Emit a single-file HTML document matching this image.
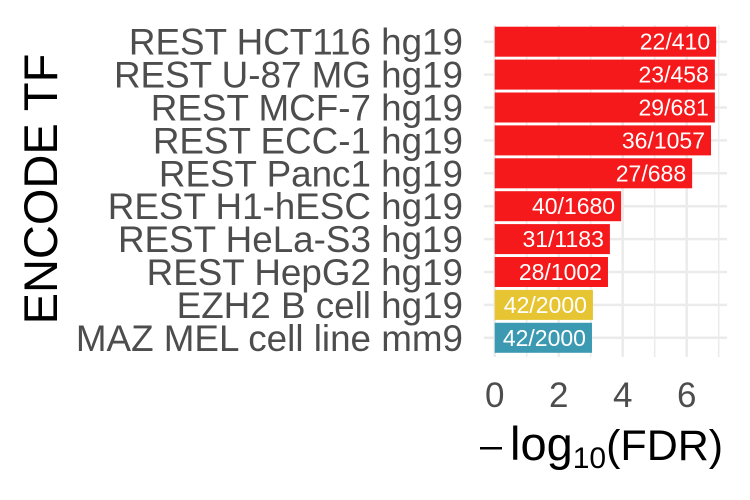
<!DOCTYPE html>
<html><head><meta charset="utf-8"><style>
html,body{margin:0;padding:0;background:#fff;}
svg{display:block;font-family:"Liberation Sans",Arial,sans-serif;}
</style></head><body>
<svg id="chart" width="750" height="500" viewBox="0 0 750 500">
<g id="grid"></g>
<g id="bars"></g>
<g id="ylabels"></g>
<g id="xticks"></g>
<text x="0" y="0" font-size="47" fill="#000" text-anchor="middle" transform="translate(57,189) rotate(-90)">ENCODE TF</text>
<rect x="480" y="447" width="22" height="2.5" fill="#000"></rect>
<text x="510" y="460" fill="#000"><tspan font-size="47">log</tspan><tspan font-size="30" dy="8">10</tspan><tspan font-size="43" dy="-8">(FDR)</tspan></text>
</svg>
<script>
const categories=["REST HCT116 hg19","REST U-87 MG hg19","REST MCF-7 hg19","REST ECC-1 hg19","REST Panc1 hg19","REST H1-hESC hg19","REST HeLa-S3 hg19","REST HepG2 hg19","EZH2 B cell hg19","MAZ MEL cell line mm9"];
const values=[6.92,6.88,6.88,6.76,6.17,3.95,3.60,3.54,3.07,3.04];
const labels=["22/410","23/458","29/681","36/1057","27/688","40/1680","31/1183","28/1002","42/2000","42/2000"];
const groups=["REST","REST","REST","REST","REST","REST","REST","REST","EZH2","MAZ"];
const xTicks=[0,2,4,6];
const colors={REST:"#f5191c",EZH2:"#e7c532",MAZ:"#3b9ab2"};
const NS="http://www.w3.org/2000/svg";
const x0=494.7,xs=32,plotL=484,plotR=727,plotT=25,plotB=357;
const xPos=v=>x0+v*xs;
const yPos=i=>41.7+i*32.9;
const grid=document.getElementById('grid');
function line(x1,y1,x2,y2,w){const l=document.createElementNS(NS,'line');l.setAttribute('x1',x1);l.setAttribute('y1',y1);l.setAttribute('x2',x2);l.setAttribute('y2',y2);l.setAttribute('stroke','#ebebeb');l.setAttribute('stroke-width',w);grid.appendChild(l);return l;}
for(let v=1;v<=7;v+=2){const l=line(xPos(v),plotT,xPos(v),plotB,1.5);

}
xTicks.forEach(v=>{const l=line(xPos(v),plotT,xPos(v),plotB,2.5);

});
categories.forEach((c,i)=>{const l=line(plotL,yPos(i),plotR,yPos(i),2.5);

});
const bars=document.getElementById('bars'),yl=document.getElementById('ylabels'),xt=document.getElementById('xticks');
categories.forEach((c,i)=>{
const r=document.createElementNS(NS,'rect');
r.setAttribute('x',xPos(0));r.setAttribute('y',yPos(i)-15);r.setAttribute('width',xPos(values[i])-xPos(0));r.setAttribute('height',30);r.setAttribute('fill',colors[groups[i]]);


bars.appendChild(r);
const t=document.createElementNS(NS,'text');
t.setAttribute('x',xPos(values[i])-6);t.setAttribute('y',yPos(i)+8);t.setAttribute('text-anchor','end');t.setAttribute('font-size','23');t.setAttribute('fill','#fff');t.textContent=labels[i];


bars.appendChild(t);
const y=document.createElementNS(NS,'text');
y.setAttribute('x',463);y.setAttribute('y',yPos(i)+13);y.setAttribute('text-anchor','end');y.setAttribute('font-size','36.8');y.setAttribute('fill','#4d4d4d');y.textContent=c;


yl.appendChild(y);
});
xTicks.forEach(v=>{const t=document.createElementNS(NS,'text');
t.setAttribute('x',xPos(v));t.setAttribute('y',407);t.setAttribute('text-anchor','middle');t.setAttribute('font-size','35');t.setAttribute('fill','#4d4d4d');t.textContent=v;


xt.appendChild(t);});
</script>
</body></html>
